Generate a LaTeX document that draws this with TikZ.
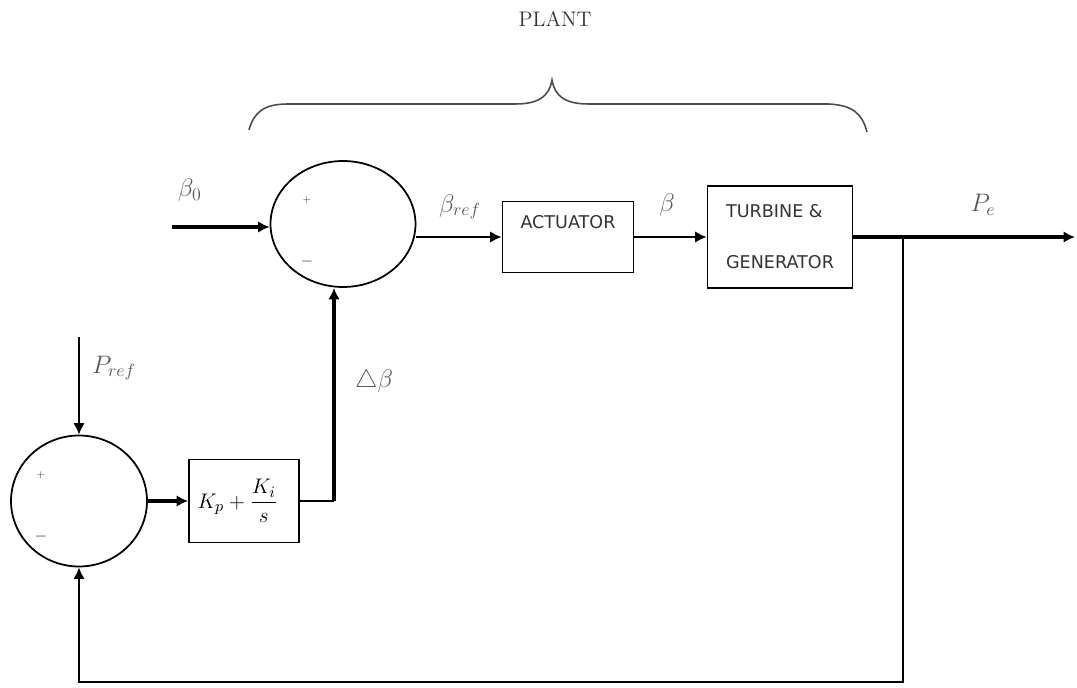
\documentclass[tikz,border=0pt]{standalone}
\usepackage{amsfonts}
\usepackage{fontspec}
\usepackage{xcolor}
\usepackage{tikz}
\usetikzlibrary{shapes.geometric, arrows.meta}
\newfontfamily\blockfont{DejaVu Sans}

\begin{document}
\begin{tikzpicture}[every text node part/.style={align=center}, x = 0.02cm, y = -0.02cm]
			\tikzstyle{sumjn} = [draw, ellipse, line width = 1pt, inner sep = 0pt]
			\tikzstyle{blk} = [draw, rectangle, line width = 1pt, font = \blockfont, text = black!80]
			\tikzstyle{sig} = [text = black!65, font = \Large]
			\tikzstyle{sgn} = [text = black!75, font = \small, inner sep = 0pt]
			\tikzstyle{flow} = [-{Latex[length = 6.5pt, width = 6.5pt]}, line width = 1.5pt]
			\tikzstyle{heavy} = [flow, line width = 2.8pt]

			\useasboundingbox (0, 0) rectangle (1077, 688);

			\path (555, 19) node[font = \large, text = black!80] (plant) {PLANT};

			\path (343, 224) node[sumjn, minimum width = 2.9cm, minimum height = 2.52cm] (sum1) {};
			\path (79, 501) node[sumjn, minimum width = 2.72cm, minimum height = 2.62cm] (sum2) {};
			\path (568, 237) node[blk, minimum width = 2.62cm, minimum height = 1.42cm] (act) {ACTUATOR\\[5pt]\mbox{}};
			\path (780, 237) node[blk, every text node part/.style = {align = left}, minimum width = 2.9cm, minimum height = 2.04cm] (turb) {TURBINE \&\\[17pt]GENERATOR};
			\path (244, 501) node[draw, rectangle, line width = 1pt, font = \fontsize{13}{15}\selectfont, minimum width = 2.2cm, minimum height = 1.66cm] (pi) {$K_p +\displaystyle\frac{K_i}{s}$\hspace*{0.25cm}};

			\path (307, 200) node[sgn, font = \tiny] (s1p) {+};
			\path (307, 262) node[sgn] (s1m) {$-$};
			\path (41, 475) node[sgn, font = \tiny] (s2p) {+};
			\path (41, 537) node[sgn] (s2m) {$-$};

			\path (190, 190) node[sig] (b0lbl) {$\beta_0$};
			\path (460, 207) node[sig] (breflbl) {$\beta_{ref}$};
			\path (667, 205) node[sig] (blbl) {$\beta$};
			\path (983, 205) node[sig] (pelbl) {$P_e$};
			\path (114, 368) node[sig] (preflbl) {$P_{ref}$};
			\path (374, 381) node[sig] (dblbl) {$\triangle\beta$};

			\coordinate (b0in) at (172, 227);
			\coordinate (prefin) at (79, 337);
			\coordinate (out) at (1075, 0);
			\coordinate (tap) at (903, 0);
			\coordinate (bot) at (0, 682);
			\coordinate (riser) at (334, 501);

			% forward path
			\path[draw, heavy] (b0in) -- (b0in -| sum1.west);
			\path[draw, flow] (sum1.east |- act.west) -- (act.west);
			\path[draw, flow] (act) -- (turb);
			\path[draw, heavy] (turb.east) -- (turb.east -| out);

			% feedback
			\path[draw, flow, line width = 1.3pt] (turb.east -| tap) -- (tap |- bot) -| (sum2.south);
			\path[draw, flow, line width = 1.1pt] (prefin) -- (sum2.north);
			\path[draw, flow, line width = 1.9pt] (sum2.east) -- (pi.west);
			\path[draw, line width = 1pt] (pi.east) -- (riser);
			\path[draw, flow, line width = 2.2pt] (riser) -- (riser |- sum1.south);

			% plant brace
			\path[draw, line width = 0.9pt, black!70] (249, 130) .. controls (254, 112) and (264, 104) .. (288, 104) -- (515, 104) .. controls (538, 104) and (549, 97) .. (552, 80) .. controls (555, 97) and (566, 104) .. (589, 104) -- (828, 104) .. controls (852, 105) and (862, 113) .. (867, 132);
		\end{tikzpicture}
\end{document}
